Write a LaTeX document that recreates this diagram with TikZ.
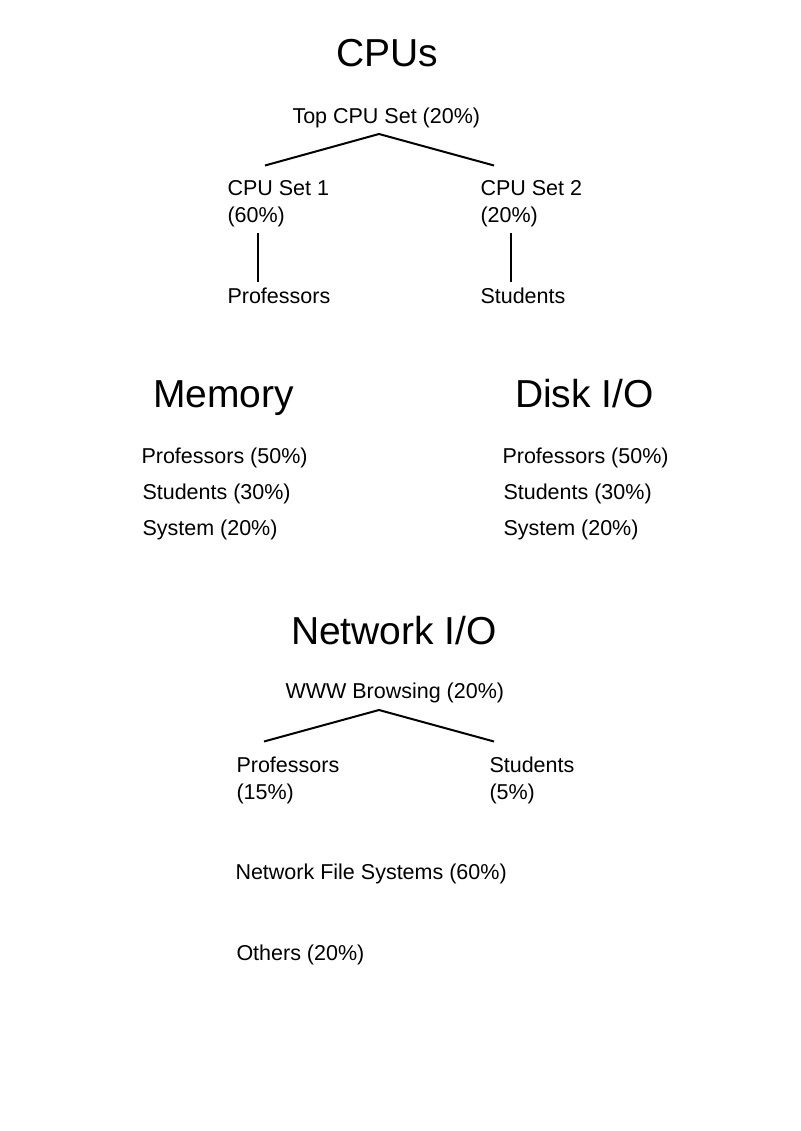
\documentclass[tikz,border=0pt]{standalone}
\usepackage{fontspec}
\setmainfont{Liberation Sans}
\usetikzlibrary{calc}
\begin{document}
\begin{tikzpicture}[x=1pt,y=-1pt,
  txt/.style={anchor=base west,inner sep=0pt,outer sep=0pt,font=\fontsize{21.5}{25}\selectfont},
  ttl/.style={anchor=base west,inner sep=0pt,outer sep=0pt,font=\fontsize{39}{44}\selectfont},
  conn/.style={line width=2pt,line cap=butt}]
\useasboundingbox[fill=white] (0,0) rectangle (800,1131);
% CPUs
\node[ttl] (tcpu) at (336,67) {CPUs};
\node[txt] (top) at (292.5,123.5) {Top CPU Set (20\%)};
\node[txt] (c1) at (227.5,195.5) {CPU Set 1};
\node[txt] (c1p) at (227.5,222.5) {(60\%)};
\node[txt] (c2) at (480.5,195.5) {CPU Set 2};
\node[txt] (c2p) at (480.5,222.5) {(20\%)};
\node[txt] (p1) at (227.5,303.5) {Professors};
\node[txt] (s1) at (480.5,303.5) {Students};
\coordinate (apex1) at ($(top.base west)+(86.5,10.5)$);
\draw[conn] ($(c1.base west)+(37.5,-30)$) -- (apex1) -- ($(c2.base west)+(13.5,-30)$);
\draw[conn] ($(c1p.base west)+(30.5,10.5)$) -- ($(p1.base west)+(30.5,-21.5)$);
\draw[conn] ($(c2p.base west)+(30.5,10.5)$) -- ($(s1.base west)+(30.5,-21.5)$);
% Memory
\node[ttl] (tmem) at (153,407.5) {Memory};
\node[txt] (m1) at (141.5,463.5) {Professors (50\%)};
\node[txt] (m2) at (142.5,499.5) {Students (30\%)};
\node[txt] (m3) at (142.5,535.5) {System (20\%)};
% Disk
\node[ttl] (tdisk) at (515,407.5) {Disk I/O};
\node[txt] (d1) at (502.5,463.5) {Professors (50\%)};
\node[txt] (d2) at (503.5,499.5) {Students (30\%)};
\node[txt] (d3) at (503.5,535.5) {System (20\%)};
% Network
\node[ttl] (tnet) at (291,644.5) {Network I/O};
\node[txt] (www) at (285.5,698.5) {WWW Browsing (20\%)};
\node[txt] (np) at (236.5,772.5) {Professors};
\node[txt] (npp) at (236.5,799.5) {(15\%)};
\node[txt] (ns) at (489.5,772.5) {Students};
\node[txt] (nsp) at (489.5,799.5) {(5\%)};
\node[txt] (nfs) at (235.5,879.5) {Network File Systems (60\%)};
\node[txt] (oth) at (236.5,960.5) {Others (20\%)};
\coordinate (apex2) at ($(www.base west)+(93.5,11.5)$);
\draw[conn] ($(np.base west)+(27.5,-31)$) -- (apex2) -- ($(ns.base west)+(4.5,-31)$);
\end{tikzpicture}
\end{document}
